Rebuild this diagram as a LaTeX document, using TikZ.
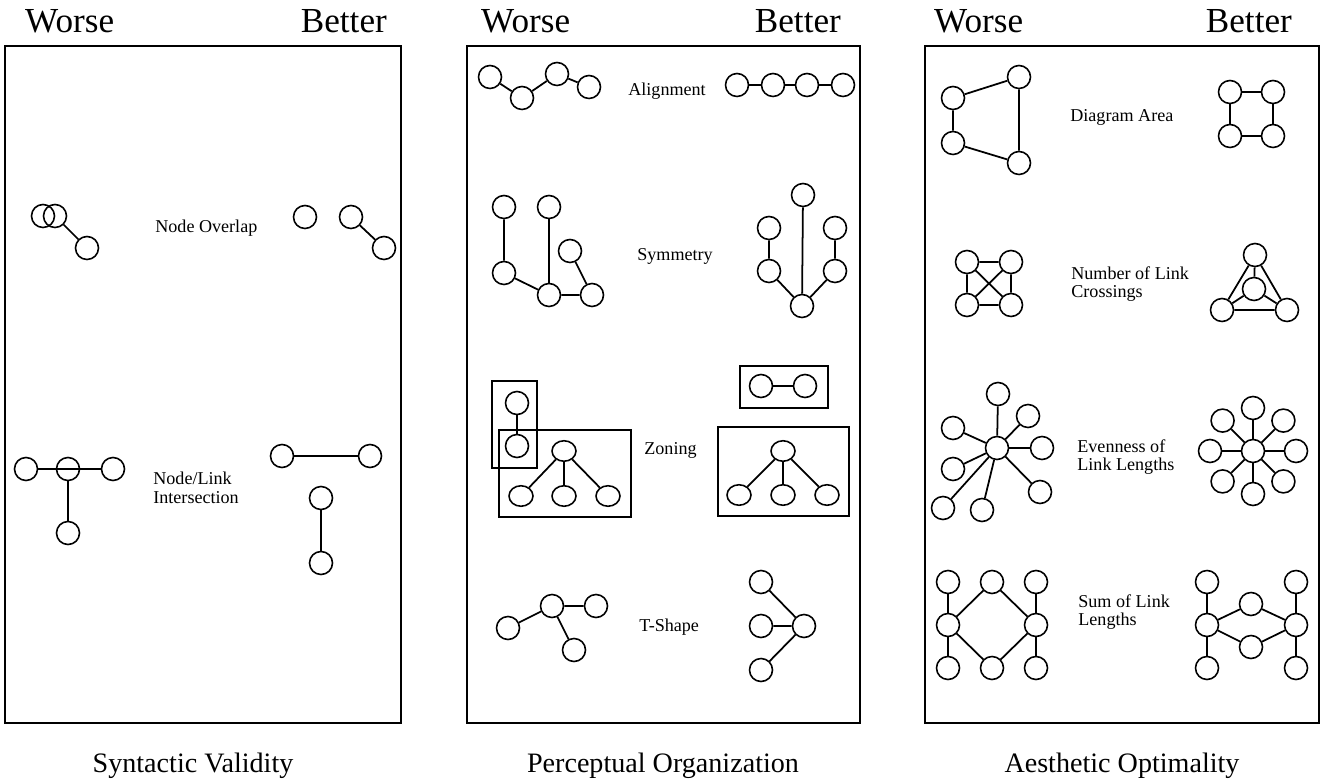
\documentclass[tikz,border=0pt]{standalone}
\usepackage{fontspec}
\setmainfont{Liberation Serif}
\usetikzlibrary{shapes.geometric}
\begin{document}
\begin{tikzpicture}[x=0.02cm, y=-0.02cm,
  vert/.style={draw, circle, minimum size=0.46cm, inner sep=0pt, line width=0.9pt},
  zvert/.style={draw, ellipse, minimum width=0.48cm, minimum height=0.41cm, inner sep=0pt, line width=0.9pt},
  link/.style={line width=1pt},
  panel/.style={line width=1.2pt},
  head/.style={font=\fontsize{20}{24}\selectfont, anchor=base},
  title/.style={font=\fontsize{16}{19}\selectfont, anchor=base},
  crit/.style={font=\fontsize{10.3}{10.5}\selectfont, align=left, anchor=west, inner sep=0pt}]
\useasboundingbox (0,0) rectangle (1322,780);
% panels and headings
\draw[panel] (5,46) rectangle (401,723);
\draw[panel] (467,46) rectangle (860,723);
\draw[panel] (925,46) rectangle (1319,723);
\node[head, anchor=base west] (w1) at (19,33) {Worse};
\node[head, anchor=base east] (b1) at (393,33) {Better};
\node[head, anchor=base west] (w2) at (475,33) {Worse};
\node[head, anchor=base east] (b2) at (847,33) {Better};
\node[head, anchor=base west] (w3) at (928,33) {Worse};
\node[head, anchor=base east] (b3) at (1298,33) {Better};
\node[title] (t1) at (193,772) {Syntactic Validity};
\node[title] (t2) at (663,772) {Perceptual Organization};
\node[title] (t3) at (1122,772) {Aesthetic Optimality};

% Syntactic Validity
\node[vert] (ow1) at (43,216) {};
\node[vert] (ow2) at (55,216) {};
\node[vert] (ow3) at (87,248) {};
\draw[link] (ow2) -- (ow3);
\node[crit] (lov) at (155,228) {Node Overlap};
\node[vert] (ob1) at (305,217) {};
\node[vert] (ob2) at (351,217) {};
\node[vert] (ob3) at (384,248) {};
\draw[link] (ob2) -- (ob3);

\node[vert] (iw1) at (26,469) {};
\node[vert] (iw2) at (68,469) {};
\node[vert] (iw3) at (113,469) {};
\node[vert] (iw4) at (68,533) {};
\draw[link] (iw1) -- (iw3);
\draw[link] (iw2) -- (iw4);
\node[crit] (lint) at (153,488) {Node/Link\\Intersection};
\node[vert] (ib1) at (282,456) {};
\node[vert] (ib2) at (370,456) {};
\node[vert] (ib3) at (321,498) {};
\node[vert] (ib4) at (321,563) {};
\draw[link] (ib1) -- (ib2);
\draw[link] (ib3) -- (ib4);

% Perceptual Organization
\node[vert] (aw1) at (490,77) {};
\node[vert] (aw2) at (522,98) {};
\node[vert] (aw3) at (557,74) {};
\node[vert] (aw4) at (589,87) {};
\draw[link] (aw1) -- (aw2) -- (aw3) -- (aw4);
\node[crit] (lal) at (628,91) {Alignment};
\node[vert] (ab1) at (737,85) {};
\node[vert] (ab2) at (773,85) {};
\node[vert] (ab3) at (807,85) {};
\node[vert] (ab4) at (843,85) {};
\draw[link] (ab1) -- (ab2) -- (ab3) -- (ab4);

\node[vert] (sw1) at (504,207) {};
\node[vert] (sw2) at (549,207) {};
\node[vert] (sw3) at (570,251) {};
\node[vert] (sw4) at (504,273) {};
\node[vert] (sw5) at (549,295) {};
\node[vert] (sw6) at (592,295) {};
\draw[link] (sw1) -- (sw4) -- (sw5) -- (sw6) -- (sw3);
\draw[link] (sw2) -- (sw5);
\node[crit] (lsy) at (637,256) {Symmetry};
\node[vert] (sb1) at (803,195) {};
\node[vert] (sb2) at (769,228) {};
\node[vert] (sb3) at (835,228) {};
\node[vert] (sb4) at (769,271) {};
\node[vert] (sb5) at (835,271) {};
\node[vert] (sb6) at (802,306) {};
\draw[link] (sb1) -- (sb6);
\draw[link] (sb2) -- (sb4) -- (sb6) -- (sb5) -- (sb3);

\draw[panel] (492,381) rectangle (537,468);
\draw[panel] (499,430) rectangle (631,517);
\node[vert] (zw1) at (517,403) {};
\node[vert] (zw2) at (517,446) {};
\draw[link] (zw1) -- (zw2);
\node[zvert] (zw3) at (564,451) {};
\node[zvert] (zw4) at (521,496) {};
\node[zvert] (zw5) at (564,496) {};
\node[zvert] (zw6) at (608,496) {};
\draw[link] (zw3) -- (zw4) (zw3) -- (zw5) (zw3) -- (zw6);
\node[crit] (lzo) at (644,450) {Zoning};
\draw[panel] (740,366) rectangle (828,408);
\node[vert] (zb1) at (761,386) {};
\node[vert] (zb2) at (805,386) {};
\draw[link] (zb1) -- (zb2);
\draw[panel] (718,427) rectangle (849,516);
\node[zvert] (zb3) at (783,451) {};
\node[zvert] (zb4) at (739,495) {};
\node[zvert] (zb5) at (783,495) {};
\node[zvert] (zb6) at (827,495) {};
\draw[link] (zb3) -- (zb4) (zb3) -- (zb5) (zb3) -- (zb6);

\node[vert] (tw1) at (552,606) {};
\node[vert] (tw2) at (596,606) {};
\node[vert] (tw3) at (508,628) {};
\node[vert] (tw4) at (574,650) {};
\draw[link] (tw3) -- (tw1) -- (tw2) (tw1) -- (tw4);
\node[crit] (lts) at (639,627) {T-Shape};
\node[vert] (tb1) at (761,582) {};
\node[vert] (tb2) at (761,626) {};
\node[vert] (tb3) at (761,670) {};
\node[vert] (tb4) at (804,626) {};
\draw[link] (tb1) -- (tb4) (tb2) -- (tb4) (tb3) -- (tb4);

% Aesthetic Optimality
\node[vert] (dw1) at (953,98) {};
\node[vert] (dw2) at (1019,77) {};
\node[vert] (dw3) at (953,143) {};
\node[vert] (dw4) at (1019,163) {};
\draw[link] (dw2) -- (dw1) -- (dw3) -- (dw4) -- (dw2);
\node[crit] (lda) at (1070,117) {Diagram Area};
\node[vert] (db1) at (1230,92) {};
\node[vert] (db2) at (1273,92) {};
\node[vert] (db3) at (1230,136) {};
\node[vert] (db4) at (1273,136) {};
\draw[link] (db1) -- (db2) -- (db4) -- (db3) -- (db1);

\node[vert] (cw1) at (967,262) {};
\node[vert] (cw2) at (1011,262) {};
\node[vert] (cw3) at (967,305) {};
\node[vert] (cw4) at (1011,305) {};
\draw[link] (cw1) -- (cw2) -- (cw4) -- (cw3) -- (cw1) (cw1) -- (cw4) (cw2) -- (cw3);
\node[crit] (lcr) at (1071,284) {Number of Link\\Crossings};
\node[vert] (cb1) at (1255,255) {};
\node[vert] (cb2) at (1254,289) {};
\node[vert] (cb3) at (1222,310) {};
\node[vert] (cb4) at (1287,310) {};
\draw[link] (cb1) -- (cb3) -- (cb4) -- (cb1);
\draw[link] (cb2) -- (cb1) (cb2) -- (cb3) (cb2) -- (cb4);

\node[vert] (ew0) at (997,448) {};
\node[vert] (ew1) at (998,394) {};
\node[vert] (ew2) at (1028,416) {};
\node[vert] (ew3) at (1042,448) {};
\node[vert] (ew4) at (1040,492) {};
\node[vert] (ew5) at (982,510) {};
\node[vert] (ew6) at (943,508) {};
\node[vert] (ew7) at (953,469) {};
\node[vert] (ew8) at (953,428) {};
\foreach \i in {1,...,8}
  \draw[link] (ew0) -- (ew\i);
\node[crit] (lev) at (1077,457) {Evenness of\\Link Lengths};
\node[vert] (ebc) at (1253,451) {};
\foreach \a in {0,45,...,315} {
  \path (ebc) ++(\a:43) node[vert] (eb\a) {};
  \draw[link] (ebc) -- (eb\a);
}

\node[vert] (uw1) at (948,582) {};
\node[vert] (uw2) at (992,582) {};
\node[vert] (uw3) at (1036,582) {};
\node[vert] (uw4) at (948,625) {};
\node[vert] (uw5) at (1036,625) {};
\node[vert] (uw6) at (948,668) {};
\node[vert] (uw7) at (992,668) {};
\node[vert] (uw8) at (1036,668) {};
\draw[link] (uw1) -- (uw4) -- (uw6) (uw3) -- (uw5) -- (uw8);
\draw[link] (uw4) -- (uw2) -- (uw5) -- (uw7) -- (uw4);
\node[crit] (lsu) at (1078,612) {Sum of Link\\Lengths};
\node[vert] (ub1) at (1207,582) {};
\node[vert] (ub2) at (1296,582) {};
\node[vert] (ub3) at (1207,625) {};
\node[vert] (ub4) at (1296,625) {};
\node[vert] (ub5) at (1207,668) {};
\node[vert] (ub6) at (1296,668) {};
\node[vert] (ub7) at (1251,604) {};
\node[vert] (ub8) at (1251,647) {};
\draw[link] (ub1) -- (ub3) -- (ub5) (ub2) -- (ub4) -- (ub6);
\draw[link] (ub3) -- (ub7) -- (ub4) -- (ub8) -- (ub3);
\end{tikzpicture}
\end{document}
